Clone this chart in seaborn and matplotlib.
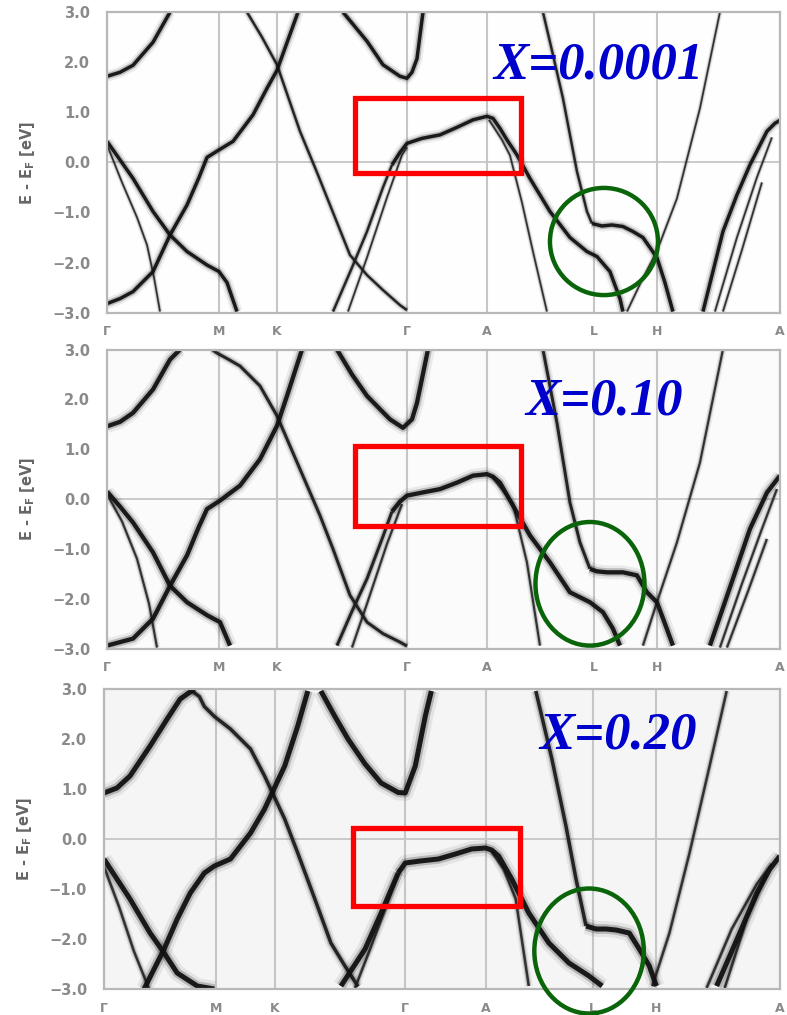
import pandas as pd
import matplotlib
matplotlib.use("Agg")
import matplotlib.pyplot as plt
import seaborn as sns
from matplotlib.patches import Rectangle, Ellipse
from matplotlib.ticker import MultipleLocator

# k-path (high symmetry points) and energy ticks
K_TICKS = [0, 1.12, 1.70, 3.00, 3.80, 4.87, 5.50, 6.73]
K_LABELS = ["Γ", "M", "K", "Γ", "A", "L", "H", "A"]
E_TICKS = [3, 2, 1, 0, -1, -2, -3]
E_LABELS = ["3.0", "2.0", "1.0", "0.0", "\u22121.0", "\u22122.0", "\u22123.0"]
DOPING = ["X=0.0001", "X=0.10", "X=0.20"]

# ---------------- panel 1 (X=0.0001) bands ----------------
p1_gamma_up_k = [0, 0.13, 0.26, 0.46, 0.63]
p1_gamma_up_e = [1.72, 1.8, 1.94, 2.4, 3.0]
p1_m_up_k = [0, 0.13, 0.26, 0.46, 0.63, 0.8, 0.92, 1.0, 1.12, 1.26, 1.46, 1.6, 1.70, 1.91]
p1_m_up_e = [-2.82, -2.72, -2.58, -2.18, -1.45, -0.85, -0.3, 0.1, 0.25, 0.42, 0.95, 1.48, 1.84, 3.0]
p1_m_down_k = [0, 0.13, 0.26, 0.46, 0.63, 0.8, 1.0, 1.12, 1.2, 1.30]
p1_m_down_e = [0.42, 0.05, -0.32, -0.98, -1.45, -1.78, -2.05, -2.18, -2.4, -2.98]
p1_gamma_thin_k = [0, 0.15, 0.3, 0.4, 0.47, 0.53]
p1_gamma_thin_e = [0.35, -0.4, -1.1, -1.65, -2.3, -2.98]
p1_k_down_k = [1.40, 1.55, 1.70, 1.93, 2.1, 2.26, 2.43, 2.6, 2.76, 2.93, 3.0]
p1_k_down_e = [3.0, 2.5, 1.95, 0.62, -0.2, -1.0, -1.85, -2.25, -2.55, -2.85, -2.95]
p1_gamma2_up_k = [2.36, 2.6, 2.76, 2.93, 3.0, 3.05, 3.1, 3.16]
p1_gamma2_up_e = [3.0, 2.42, 1.95, 1.72, 1.68, 1.8, 2.07, 3.0]
p1_red_low_k = [2.26, 2.45, 2.6, 2.76, 2.85]
p1_red_low_e = [-2.98, -2.1, -1.38, -0.5, -0.05]
p1_red_k = [2.85, 2.93, 3.0, 3.15, 3.33, 3.5, 3.66, 3.8, 3.86,
            3.93, 4.0, 4.1, 4.23, 4.43, 4.63, 4.8, 4.9, 5.03, 5.13, 5.16]
p1_red_e = [-0.05, 0.2, 0.38, 0.48, 0.55, 0.7, 0.85, 0.92, 0.88,
            0.68, 0.45, 0.15, -0.32, -0.98, -1.5, -1.78, -1.88, -2.18, -2.72, -2.98]
p1_red_thin_k = [2.41, 2.6, 2.8, 2.95, 3.0]
p1_red_thin_e = [-2.98, -1.9, -0.7, 0.15, 0.3]
p1_a_steep_k = [3.82, 3.95, 4.03, 4.15, 4.26, 4.4]
p1_a_steep_e = [0.85, 0.45, 0.14, -0.8, -1.78, -2.98]
p1_l_top_k = [4.36, 4.46, 4.56, 4.63, 4.70, 4.8, 4.85]
p1_l_top_e = [3.0, 2.15, 1.28, 0.55, -0.18, -0.98, -1.22]
p1_l_flat_k = [4.85, 4.95, 5.05, 5.16, 5.26, 5.36, 5.5, 5.58, 5.66]
p1_l_flat_e = [-1.22, -1.27, -1.25, -1.28, -1.38, -1.5, -1.9, -2.4, -2.98]
p1_v_right_k = [5.2, 5.35, 5.5, 5.7, 5.93, 6.13]
p1_v_right_e = [-2.98, -2.35, -1.77, -0.72, 1.08, 3.0]
p1_a_right_k = [5.96, 6.16, 6.3, 6.43, 6.6, 6.68, 6.73]
p1_a_right_e = [-2.98, -1.38, -0.65, -0.05, 0.62, 0.78, 0.84]
p1_a_thin1_k = [6.08, 6.3, 6.5, 6.65]
p1_a_thin1_e = [-2.98, -1.5, -0.3, 0.5]
p1_a_thin2_k = [6.16, 6.35, 6.55]
p1_a_thin2_e = [-2.98, -1.75, -0.4]

# ---------------- panel 2 (X=0.10) ----------------
p2_gamma_up_k = [0, 0.13, 0.26, 0.46, 0.63, 0.73]
p2_gamma_up_e = [1.46, 1.55, 1.73, 2.2, 2.8, 3.0]
p2_m_up_k = [0, 0.26, 0.46, 0.63, 0.8, 0.92, 1.0, 1.13, 1.33, 1.53, 1.70, 1.80, 1.95]
p2_m_up_e = [-2.94, -2.8, -2.4, -1.74, -1.13, -0.55, -0.2, -0.03, 0.27, 0.8, 1.47, 2.07, 3.0]
p2_m_down_k = [0, 0.13, 0.26, 0.46, 0.63, 0.8, 1.0, 1.13, 1.23]
p2_m_down_e = [0.15, -0.15, -0.47, -1.07, -1.74, -2.07, -2.33, -2.47, -2.94]
p2_gamma_thin_k = [0, 0.15, 0.3, 0.42, 0.5]
p2_gamma_thin_e = [0.1, -0.45, -1.2, -2.1, -2.98]
p2_k_down_k = [1.05, 1.1, 1.2, 1.33, 1.53, 1.70, 1.93, 2.13, 2.26, 2.43, 2.6, 2.76, 2.93, 3.0]
p2_k_down_e = [3.0, 2.93, 2.82, 2.67, 2.27, 1.67, 0.6, -0.33, -1.0, -1.93, -2.47, -2.7, -2.87, -2.95]
p2_gamma2_up_k = [2.30, 2.45, 2.6, 2.83, 2.96, 3.05, 3.1, 3.21]
p2_gamma2_up_e = [3.0, 2.5, 2.07, 1.6, 1.43, 1.6, 1.93, 3.0]
p2_red_low_k = [2.3, 2.45, 2.6, 2.76, 2.85]
p2_red_low_e = [-2.94, -2.25, -1.6, -0.75, -0.25]
p2_red_k = [2.85, 2.93, 3.0, 3.15, 3.33, 3.5, 3.66, 3.8, 3.86,
            3.93, 4.06, 4.23, 4.43, 4.63, 4.83, 4.96, 5.06, 5.13]
p2_red_e = [-0.25, -0.05, 0.07, 0.13, 0.2, 0.33, 0.47, 0.5, 0.45,
            0.33, -0.13, -0.73, -1.27, -1.87, -2.07, -2.27, -2.6, -2.94]
p2_red_thin_k = [2.45, 2.6, 2.8, 2.95]
p2_red_thin_e = [-2.98, -2.1, -0.9, -0.1]
p2_a_steep_k = [3.85, 3.95, 4.06, 4.2, 4.33]
p2_a_steep_e = [0.45, 0.2, -0.1, -1.27, -2.94]
p2_l_top_k = [4.36, 4.5, 4.63, 4.73, 4.83]
p2_l_top_e = [3.0, 1.53, -0.07, -0.87, -1.4]
p2_l_flat_k = [4.83, 4.9, 5.0, 5.16, 5.3, 5.4, 5.5, 5.58, 5.66]
p2_l_flat_e = [-1.4, -1.45, -1.47, -1.47, -1.53, -1.87, -2.07, -2.5, -2.94]
p2_v_right_k = [5.36, 5.5, 5.7, 5.93, 6.16]
p2_v_right_e = [-2.94, -2.07, -0.87, 0.73, 3.0]
p2_a_right_k = [6.03, 6.26, 6.43, 6.6, 6.73]
p2_a_right_e = [-2.94, -1.6, -0.6, 0.13, 0.47]
p2_a_thin1_k = [6.13, 6.35, 6.55, 6.7]
p2_a_thin1_e = [-2.98, -1.7, -0.6, 0.2]
p2_a_thin2_k = [6.2, 6.42, 6.6]
p2_a_thin2_e = [-2.98, -1.8, -0.8]

# ---------------- panel 3 (X=0.20) ----------------
p3_gamma_up_k = [0, 0.13, 0.26, 0.46, 0.63, 0.76, 0.9]
p3_gamma_up_e = [0.92, 1.02, 1.26, 1.86, 2.4, 2.8, 3.0]
p3_m_up_k = [0.4, 0.6, 0.73, 0.86, 1.0, 1.1, 1.26, 1.46, 1.6, 1.66, 1.8, 1.93, 2.03]
p3_m_up_e = [-3.0, -2.2, -1.6, -1.08, -0.68, -0.54, -0.4, 0.12, 0.6, 0.86, 1.46, 2.26, 2.96]
p3_m_down_k = [0, 0.13, 0.26, 0.46, 0.6, 0.73, 0.93, 1.1]
p3_m_down_e = [-0.4, -0.8, -1.2, -1.88, -2.28, -2.68, -2.94, -3.0]
p3_gamma_thin_k = [0, 0.15, 0.3, 0.45]
p3_gamma_thin_e = [-0.55, -1.35, -2.25, -3.0]
p3_k_down_k = [0.85, 0.95, 1.0, 1.1, 1.26, 1.46, 1.6, 1.66, 1.8, 1.93, 2.1, 2.26, 2.4, 2.53]
p3_k_down_e = [3.0, 2.85, 2.65, 2.45, 2.2, 1.8, 1.26, 1.0, 0.4, -0.28, -1.2, -2.08, -2.54, -2.95]
p3_gamma2_up_k = [2.16, 2.3, 2.43, 2.6, 2.76, 2.93, 3.0, 3.1, 3.2, 3.26]
p3_gamma2_up_e = [2.96, 2.45, 2.0, 1.5, 1.12, 0.93, 0.92, 1.46, 2.46, 2.96]
p3_red_low_k = [2.36, 2.6, 2.76, 2.93]
p3_red_low_e = [-2.94, -2.2, -1.48, -0.68]
p3_red_k = [2.93, 3.0, 3.15, 3.33, 3.5, 3.66, 3.8, 3.86,
            3.93, 4.06, 4.23, 4.43, 4.63, 4.83, 4.96]
p3_red_e = [-0.68, -0.48, -0.44, -0.4, -0.3, -0.2, -0.18, -0.22,
            -0.34, -0.8, -1.48, -2.08, -2.48, -2.74, -2.94]
p3_red_thin_k = [2.5, 2.65, 2.8, 2.95]
p3_red_thin_e = [-2.98, -2.2, -1.4, -0.6]
p3_a_steep_k = [3.86, 3.98, 4.1, 4.23]
p3_a_steep_e = [-0.25, -0.6, -1.2, -2.94]
p3_l_top_k = [4.3, 4.46, 4.6, 4.7, 4.8]
p3_l_top_e = [2.96, 1.6, 0.26, -0.8, -1.74]
p3_l_flat_k = [4.8, 4.9, 5.0, 5.1, 5.23, 5.33, 5.43, 5.5]
p3_l_flat_e = [-1.74, -1.8, -1.8, -1.82, -1.88, -2.2, -2.54, -2.94]
p3_v_right_k = [5.46, 5.63, 5.83, 6.03, 6.2]
p3_v_right_e = [-2.94, -1.88, -0.28, 1.46, 2.96]
p3_a_right_k = [6.1, 6.33, 6.5, 6.63, 6.73]
p3_a_right_e = [-2.94, -1.88, -1.08, -0.6, -0.34]
p3_a_thin1_k = [6.0, 6.25, 6.5, 6.65]
p3_a_thin1_e = [-2.98, -1.8, -0.9, -0.5]
p3_a_thin2_k = [6.18, 6.4, 6.6]
p3_a_thin2_e = [-2.98, -1.6, -0.7]


def to_frame(bands):
    parts = [pd.DataFrame({"k": k, "E": e, "band": i}) for i, (k, e) in enumerate(bands)]
    return pd.concat(parts, ignore_index=True)


panels = [
    dict(
        main=[(p1_gamma_up_k, p1_gamma_up_e), (p1_m_up_k, p1_m_up_e), (p1_m_down_k, p1_m_down_e),
              (p1_gamma2_up_k, p1_gamma2_up_e), (p1_red_k, p1_red_e),
              (p1_l_flat_k, p1_l_flat_e), (p1_a_right_k, p1_a_right_e)],
        mid=[(p1_k_down_k, p1_k_down_e), (p1_l_top_k, p1_l_top_e), (p1_red_low_k, p1_red_low_e)],
        thin=[(p1_gamma_thin_k, p1_gamma_thin_e), (p1_red_thin_k, p1_red_thin_e),
              (p1_a_steep_k, p1_a_steep_e), (p1_v_right_k, p1_v_right_e),
              (p1_a_thin1_k, p1_a_thin1_e), (p1_a_thin2_k, p1_a_thin2_e)],
        pos=[0.136, 0.692, 0.855, 0.296], face="#fefefe", core=2.5,
        text_xy=(4.92, 1.94), rect_y=(-0.22, 1.28), ell=(4.97, -1.58, 1.08, 2.14)),
    dict(
        main=[(p2_gamma_up_k, p2_gamma_up_e), (p2_m_up_k, p2_m_up_e), (p2_m_down_k, p2_m_down_e),
              (p2_gamma2_up_k, p2_gamma2_up_e), (p2_red_k, p2_red_e),
              (p2_l_flat_k, p2_l_flat_e), (p2_a_right_k, p2_a_right_e)],
        mid=[(p2_k_down_k, p2_k_down_e), (p2_l_top_k, p2_l_top_e), (p2_red_low_k, p2_red_low_e)],
        thin=[(p2_gamma_thin_k, p2_gamma_thin_e), (p2_red_thin_k, p2_red_thin_e),
              (p2_a_steep_k, p2_a_steep_e), (p2_v_right_k, p2_v_right_e),
              (p2_a_thin1_k, p2_a_thin1_e), (p2_a_thin2_k, p2_a_thin2_e)],
        pos=[0.136, 0.361, 0.855, 0.2946], face="#fbfbfb", core=3.1,
        text_xy=(4.97, 1.96), rect_y=(-0.54, 1.06), ell=(4.83, -1.70, 1.09, 2.48)),
    dict(
        main=[(p3_gamma_up_k, p3_gamma_up_e), (p3_m_up_k, p3_m_up_e), (p3_m_down_k, p3_m_down_e),
              (p3_gamma2_up_k, p3_gamma2_up_e), (p3_red_k, p3_red_e), (p3_red_low_k, p3_red_low_e),
              (p3_l_flat_k, p3_l_flat_e), (p3_a_right_k, p3_a_right_e)],
        mid=[(p3_k_down_k, p3_k_down_e), (p3_l_top_k, p3_l_top_e)],
        thin=[(p3_gamma_thin_k, p3_gamma_thin_e), (p3_red_thin_k, p3_red_thin_e),
              (p3_a_steep_k, p3_a_steep_e), (p3_v_right_k, p3_v_right_e),
              (p3_a_thin1_k, p3_a_thin1_e), (p3_a_thin2_k, p3_a_thin2_e)],
        pos=[0.132, 0.0256, 0.859, 0.2956], face="#f5f5f5", core=3.6,
        text_xy=(5.12, 2.06), rect_y=(-1.34, 0.22), ell=(4.83, -2.24, 1.09, 2.5)),
]

sns.set_style("white")
plt.rcParams["font.family"] = ["DejaVu Sans"]

fig = plt.figure(figsize=(7.87, 10.15), dpi=100)
fig.patch.set_facecolor("white")

for i, p in enumerate(panels):
    ax = fig.add_axes(p["pos"])
    ax.set_facecolor(p["face"])
    c = p["core"]

    # blurred spectral look: wide faint halo + darker halo + core line
    groups = [(to_frame(p["thin"]), 0.5, "#2a2a2a"),
              (to_frame(p["mid"]), 0.7, "#1c1c1c"),
              (to_frame(p["main"]), 1.0, "#111111")]
    for df, scale, col in groups:
        for lw, a in [(c * 3.2 * scale, 0.07), (c * 1.9 * scale, 0.22), (c * scale, 0.95)]:
            sns.lineplot(data=df, x="k", y="E", units="band", estimator=None, sort=False,
                         color=col, lw=max(lw, 1.0), alpha=a, ax=ax, legend=False,
                         solid_joinstyle="round", solid_capstyle="butt")

    ax.set_xlim(0, 6.73)
    ax.set_ylim(-3, 3)
    ax.set_xticks(K_TICKS)
    ax.set_xticklabels(K_LABELS)
    ax.set_yticks(E_TICKS)
    ax.set_yticklabels(E_LABELS)
    ax.yaxis.set_minor_locator(MultipleLocator(0.2))
    ax.tick_params(axis="y", which="major", direction="in", length=11, width=1.2,
                   color="#bdbdbd", pad=12, labelsize=10.5, labelcolor="#8a8a8a")
    ax.tick_params(axis="y", which="minor", direction="in", length=6, width=1.0, color="#c8c8c8")
    ax.tick_params(axis="x", length=0, pad=9, labelsize=9, labelcolor="#8a8a8a")
    for lbl in ax.get_xticklabels() + ax.get_yticklabels():
        lbl.set_fontweight("bold")

    ax.grid(True, axis="x", color="#c6c6c6", lw=1.5)
    ax.axhline(0, color="#c6c6c6", lw=1.3, zorder=0.5)
    ax.set_axisbelow(True)
    for s in ax.spines.values():
        s.set_color("#b8b8b8")
        s.set_linewidth(1.6)

    ax.set_xlabel("")
    ax.set_ylabel("E - E$_\\mathregular{F}$ [eV]", fontsize=10.5, color="#666666",
                  fontweight="bold")
    ax.yaxis.set_label_coords(-0.104, 0.5)

    # annotations
    y0, y1 = p["rect_y"]
    ax.add_patch(Rectangle((2.48, y0), 1.66, y1 - y0, fill=False, ec="#ff0000", lw=3.8, zorder=6))
    ex, ey, ew, eh = p["ell"]
    ax.add_patch(Ellipse((ex, ey), ew, eh, fill=False, ec="#0a640a", lw=3.2, zorder=6,
                         clip_on=False))
    tx, ty = p["text_xy"]
    ax.text(tx, ty, DOPING[i], fontsize=38, fontweight="bold", style="italic",
            family="Liberation Serif", color="#0000cd", ha="center", va="center", zorder=7)

fig.savefig("out.png", dpi=100, facecolor="white")
